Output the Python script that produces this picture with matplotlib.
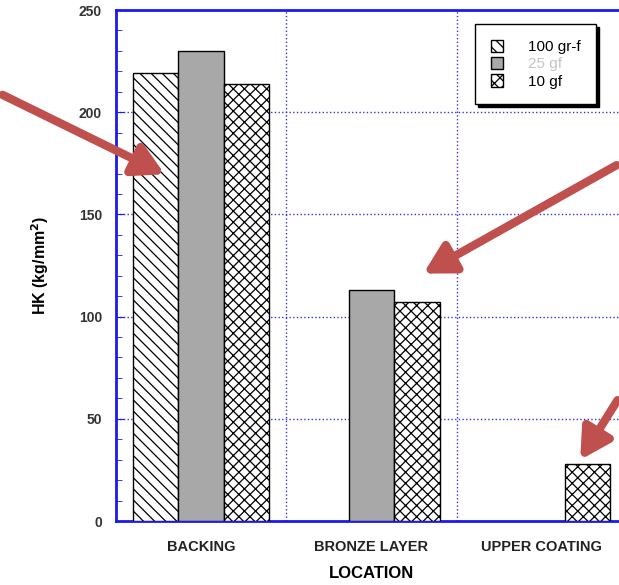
import matplotlib.pyplot as plt
from matplotlib.patches import FancyArrowPatch
from matplotlib.ticker import MultipleLocator
import numpy as np

# data
locations = ["BACKING", "BRONZE LAYER", "UPPER COATING"]
load_labels = ["100 gr-f", "25 gf", "10 gf"]
hk_100 = [219, np.nan, np.nan]
hk_25 = [230, 113, np.nan]
hk_10 = [214, 107, 28]

plt.rcParams['font.family'] = ['Liberation Sans', 'DejaVu Sans']
plt.rcParams['hatch.linewidth'] = 0.9

fig = plt.figure(figsize=(6.19, 5.85), dpi=100)
ax = fig.add_axes([0.1874, 0.1094, 0.8255, 0.8735])

x = np.arange(len(locations)) + 0.5
w = 0.267
series = [hk_100, hk_25, hk_10]
styles = [dict(facecolor='white', hatch='\\\\\\'),
          dict(facecolor='#a8a8a8', hatch=None),
          dict(facecolor='white', hatch='xxx')]
for i, (vals, st) in enumerate(zip(series, styles)):
    ax.bar(x + (i - 1) * w, vals, width=w, edgecolor='black', linewidth=1.0,
           label=load_labels[i], zorder=3, **st)

ax.set_xlim(0, 3)
ax.set_ylim(0, 250)
ax.set_xticks(x)
ax.set_xticklabels(locations, fontsize=10.5, fontweight='bold', color='#222222')
ax.tick_params(axis='x', length=0, pad=14)
ax.yaxis.set_major_locator(MultipleLocator(50))
ax.yaxis.set_minor_locator(MultipleLocator(10))
ax.tick_params(axis='y', which='both', direction='in', color='#1a1aff', labelsize=10,
               labelcolor='#333333', pad=10)
ax.tick_params(axis='y', which='major', length=6)
ax.tick_params(axis='y', which='minor', length=4)
for lab in ax.get_yticklabels():
    lab.set_fontweight('bold')

# grid: horizontal at major ticks, vertical at category borders
for yv in [50, 100, 150, 200]:
    ax.axhline(yv, color='#3333dd', linestyle=':', linewidth=1.0, zorder=1)
for xv in [1, 2]:
    ax.axvline(xv, color='#3333dd', linestyle=':', linewidth=1.0, zorder=1)

for sp in ax.spines.values():
    sp.set_color('#1a1aee')
    sp.set_linewidth(2.0)

ax.set_ylabel("HK (kg/mm$^\\mathbf{2}$)", fontsize=11.5, fontweight='bold', labelpad=20)
ax.set_xlabel("LOCATION", fontsize=12, fontweight='bold', labelpad=8)

leg = ax.legend(loc='upper left', bbox_to_anchor=(0.703, 0.972), fancybox=False,
                shadow={'color': 'black', 'alpha': 1}, framealpha=1, edgecolor='black',
                fontsize=11, handlelength=0.85, handleheight=0.85, labelspacing=0.2,
                borderpad=1.0, handletextpad=1.6, borderaxespad=0)
leg.get_frame().set_linewidth(1.0)
leg.get_texts()[1].set_color('#c4c4c4')

# red arrows pointing at the bars
red = '#c0504d'
arrows = [((0.0, 0.84), (0.27, 0.70)),
          ((1.0, 0.72), (0.68, 0.53)),
          ((1.0, 0.32), (0.935, 0.21))]
for start, end in arrows:
    fig.add_artist(FancyArrowPatch(
        start, end, transform=fig.transFigure, arrowstyle='-|>,head_length=18,head_width=10',
        color=red, linewidth=6, mutation_scale=1, zorder=10))

fig.savefig('out.png', dpi=100)
